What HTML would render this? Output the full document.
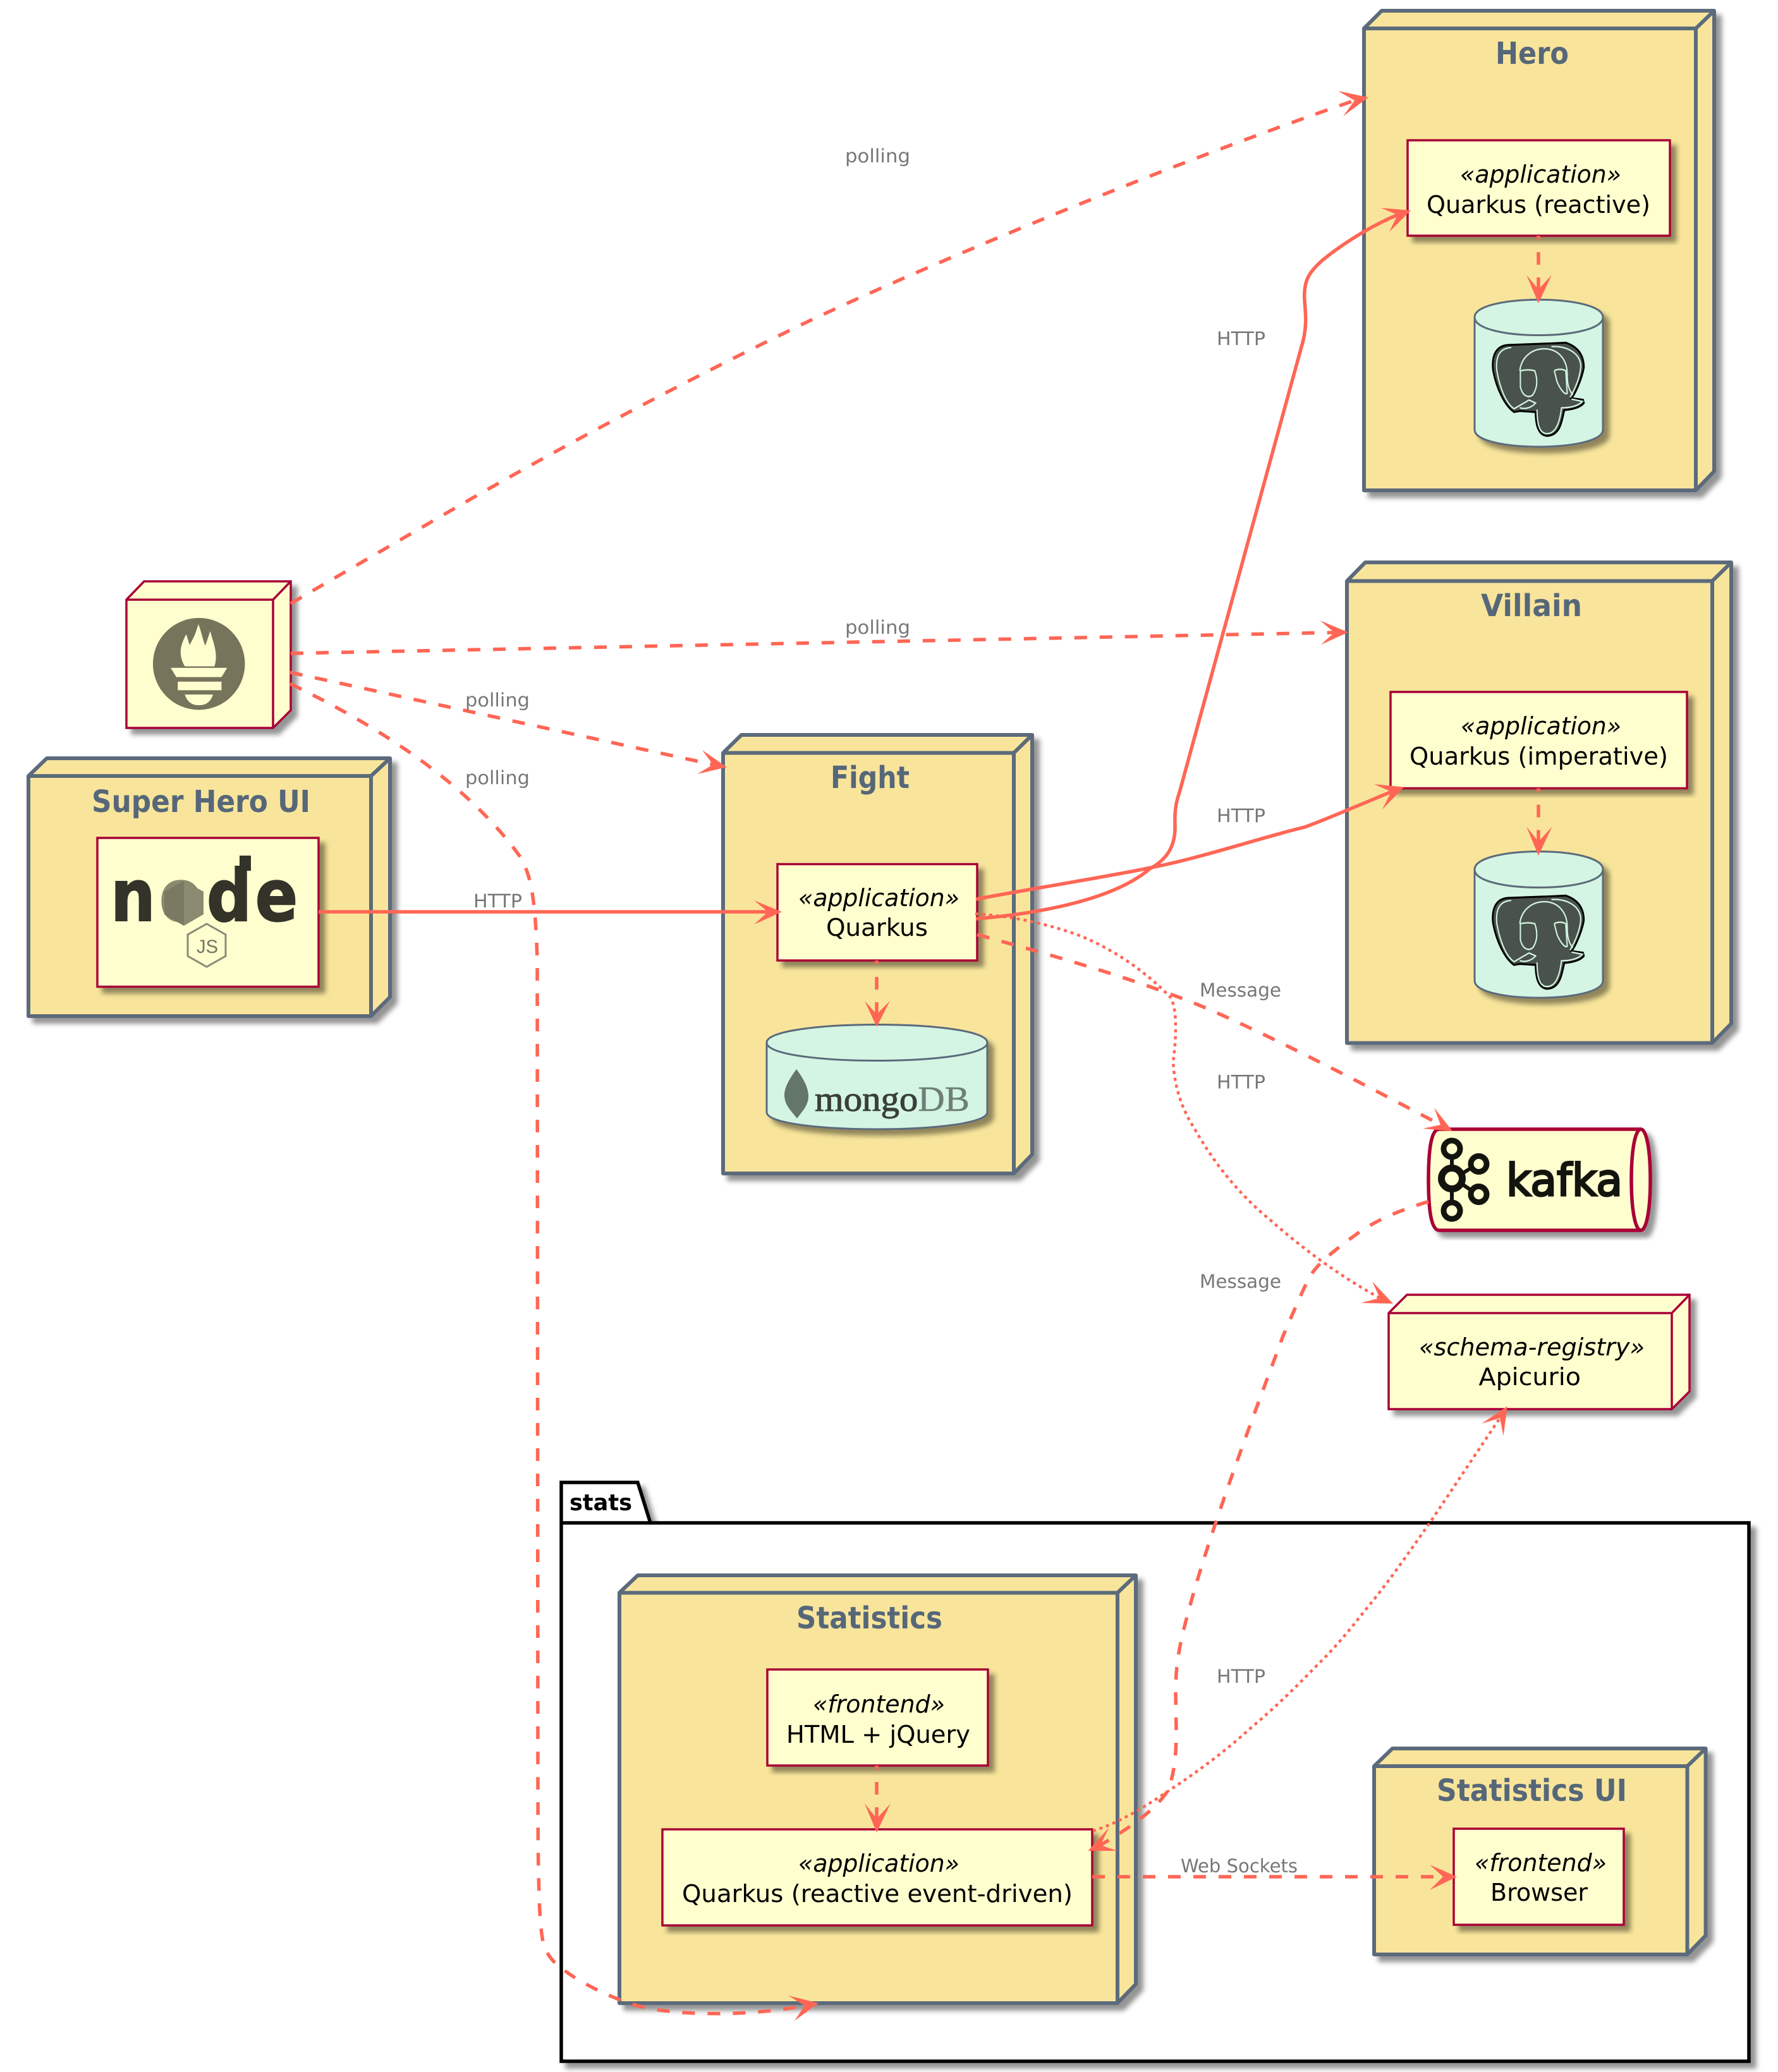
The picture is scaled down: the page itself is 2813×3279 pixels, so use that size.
<!DOCTYPE html>
<html><head><meta charset="utf-8"><title>Super Hero architecture</title>
<style>
html,body{margin:0;padding:0;background:#fff}
svg{display:block;position:absolute;left:0;top:0}
.t{font-family:"DejaVu Sans","Liberation Sans",sans-serif;font-weight:bold;font-size:48px;fill:#566779}
.b{font-family:"DejaVu Sans","Liberation Sans",sans-serif;font-size:38px;fill:#000}
.i{font-family:"DejaVu Sans","Liberation Sans",sans-serif;font-size:38px;font-style:italic;fill:#000}
.l{font-family:"DejaVu Sans","Liberation Sans",sans-serif;font-size:29px;fill:#777}
.n{fill:#F8E59B;stroke:#5B6B7B;stroke-width:6;stroke-linejoin:round}
.y{fill:#FEFECE;stroke:#A80036;stroke-width:3.5}
.d{fill:#D4F5E3;stroke:#5B6B7B;stroke-width:3}
.c{fill:none;stroke:#FF6655;stroke-width:5.5}
.dash{stroke-dasharray:20 20}
.dot{stroke-width:4.5;stroke-dasharray:5 6}
.a{fill:#FF6655;stroke:none}
</style></head>
<body>
<svg xmlns="http://www.w3.org/2000/svg" width="2813" height="3279" viewBox="0 0 2813 3279">
<defs>
<filter id="s" x="-5%" y="-5%" width="115%" height="115%"><feDropShadow dx="9" dy="9" stdDeviation="4" flood-color="#000" flood-opacity=".42"/></filter>
<g id="pg" transform="translate(2100 0) scale(.4545 .5102)">
<path d="M630 1070L780 1065L830 1063C870 1075 893 1100 893 1140C885 1180 860 1225 850 1235L890 1240L893 1250C880 1265 850 1270 825 1272C815 1310 810 1350 765 1352C735 1350 725 1320 725 1278L670 1275L650 1278C620 1260 590 1210 577 1150C570 1100 590 1072 630 1070Z" fill="#4A524C" stroke="#000" stroke-width="6"/>
<g fill="none" stroke="#D4F5E3" stroke-width="4.5">
<path d="M640 1078C600 1080 585 1105 590 1150C600 1200 620 1250 650 1268L700 1242"/>
<path d="M670 1150C675 1110 710 1080 760 1082C810 1085 835 1120 835 1160C835 1190 840 1210 855 1225"/>
<path d="M780 1075C840 1072 885 1100 882 1140C878 1175 860 1210 845 1232"/>
<path d="M672 1150L672 1200C680 1230 700 1235 715 1225C735 1200 730 1170 722 1150C700 1145 685 1148 672 1150"/>
<path d="M790 1150L800 1185C815 1215 830 1225 835 1220L830 1150C815 1143 800 1145 790 1150"/>
<path d="M730 1270C730 1330 745 1345 765 1345C790 1345 808 1320 815 1265C840 1265 870 1262 888 1245L850 1238"/>
<path d="M670 1265C690 1270 710 1265 725 1250L700 1240"/>
</g></g>
</defs>

<!-- stats package -->
<g filter="url(#s)">
<path d="M888 2410L888 2346L1009 2346L1029 2410L2767 2410L2767 3262L888 3262Z" fill="#fff" stroke="#000" stroke-width="5.5"/>
<path d="M888 2410L1029 2410" fill="none" stroke="#000" stroke-width="5.5"/>
</g>
<text x="901" y="2390" font-family="DejaVu Sans,Liberation Sans,sans-serif" font-weight="bold" font-size="36" textLength="99" lengthAdjust="spacingAndGlyphs">stats</text>

<!-- Hero -->
<g filter="url(#s)"><path class="n" d="M2158 45L2186 17L2712 17L2712 746L2683 776L2158 776Z"/></g>
<path class="n" style="fill:none" d="M2158 45L2683 45L2712 17M2683 45L2683 776"/>
<text class="t" x="2366" y="101" textLength="116" lengthAdjust="spacingAndGlyphs">Hero</text>
<rect class="y" x="2227" y="222" width="415" height="151" filter="url(#s)"/>
<text class="i" x="2310" y="289" textLength="255" lengthAdjust="spacingAndGlyphs">«application»</text>
<text class="b" x="2257" y="337" textLength="354" lengthAdjust="spacingAndGlyphs">Quarkus (reactive)</text>
<g filter="url(#s)"><path class="d" d="M2333 502C2333 465 2536 465 2536 502L2536 680C2536 716 2333 716 2333 680Z"/></g>
<path class="d" style="fill:none" d="M2333 502C2333 540 2536 540 2536 502"/>
<use href="#pg"/>

<!-- Villain -->
<g filter="url(#s)"><path class="n" d="M2131 919.5L2160 890L2739 890L2739 1620L2709 1650.6L2131 1650.6Z"/></g>
<path class="n" style="fill:none" d="M2131 919.5L2709 919.5L2739 890M2709 919.5L2709 1650.6"/>
<text class="t" x="2343" y="975" textLength="160" lengthAdjust="spacingAndGlyphs">Villain</text>
<rect class="y" x="2200" y="1095" width="469" height="152.5" filter="url(#s)"/>
<text class="i" x="2311" y="1162" textLength="254" lengthAdjust="spacingAndGlyphs">«application»</text>
<text class="b" x="2230" y="1210" textLength="409" lengthAdjust="spacingAndGlyphs">Quarkus (imperative)</text>
<g filter="url(#s)"><path class="d" d="M2333 1376C2333 1338 2536 1338 2536 1376L2536 1552C2536 1588 2333 1588 2333 1552Z"/></g>
<path class="d" style="fill:none" d="M2333 1376C2333 1414 2536 1414 2536 1376"/>
<use href="#pg" y="875"/>

<!-- Prometheus -->
<g filter="url(#s)"><path class="y" d="M200 949L228 920L460 920L460 1124L432 1152L200 1152Z"/></g>
<path class="y" style="fill:none" d="M200 949L432 949L460 920M432 949L432 1152"/>
<g transform="translate(0 880) scale(.4464 .4847)">
<ellipse cx="705" cy="352" rx="163" ry="150" fill="#77745C"/>
<g fill="#FEFECE">
<path d="M655 360C630 320 640 290 660 255L672 290C685 270 695 250 703 222C715 250 720 280 728 292L745 245C755 280 775 320 760 360Z"/>
<path d="M605 365L805 365L785 395L625 395Z"/>
<rect x="630" y="410" width="155" height="28"/>
<path d="M655 452L755 452C745 480 725 487 705 487C685 487 665 480 655 452Z"/>
</g></g>

<!-- Super Hero UI -->
<g filter="url(#s)"><path class="n" d="M45 1228L74 1200L617 1200L617 1578L587 1608L45 1608Z"/></g>
<path class="n" style="fill:none" d="M45 1228L587 1228L617 1200M587 1228L587 1608"/>
<text class="t" x="145" y="1285" textLength="346" lengthAdjust="spacingAndGlyphs">Super Hero UI</text>
<rect class="y" x="154" y="1326" width="350" height="235.5" filter="url(#s)"/>
<g transform="translate(175 1457) scale(.88 1)">
<text x="0 87.5 172.7 260" y="0" font-family="DejaVu Sans,sans-serif" font-weight="bold" font-size="113" fill="#33332A" stroke="#33332A" stroke-width="2">n<tspan fill="#8A8A70" stroke="#8A8A70">o</tspan>de</text>
</g>
<rect x="379" y="1354" width="18" height="24" fill="#33332A"/>
<path d="M291 1394L322 1411L322 1447L291 1465L260 1447L260 1411Z" fill="#8A8A70"/>
<path d="M291 1394L260 1411L260 1447L291 1465Z" fill="#7A7A62"/>
<path d="M327 1462L357 1479L357 1513L327 1530L297 1513L297 1479Z" fill="none" stroke="#8B8B78" stroke-width="3"/>
<text x="311" y="1508" font-family="Liberation Sans,sans-serif" font-size="30" fill="#777766" textLength="34" lengthAdjust="spacingAndGlyphs">JS</text>

<!-- Fight -->
<g filter="url(#s)"><path class="n" d="M1144 1191.5L1173 1163L1633 1163L1633 1827L1604 1857L1144 1857Z"/></g>
<path class="n" style="fill:none" d="M1144 1191.5L1604 1191.5L1633 1163M1604 1191.5L1604 1857"/>
<text class="t" x="1314" y="1247" textLength="125" lengthAdjust="spacingAndGlyphs">Fight</text>
<rect class="y" x="1230" y="1367.5" width="316" height="152.5" filter="url(#s)"/>
<text class="i" x="1263" y="1434" textLength="255" lengthAdjust="spacingAndGlyphs">«application»</text>
<text class="b" x="1307" y="1481" textLength="161" lengthAdjust="spacingAndGlyphs">Quarkus</text>
<g filter="url(#s)"><path class="d" d="M1213 1650C1213 1612 1562 1612 1562 1650L1562 1760C1562 1796 1213 1796 1213 1760Z"/></g>
<path class="d" style="fill:none" d="M1213 1650C1213 1688 1562 1688 1562 1650"/>
<path d="M1260 1692C1272 1708 1279 1722 1279 1735C1279 1750 1268 1760 1261 1770C1254 1760 1241 1750 1241 1733C1241 1720 1250 1706 1260 1692Z" fill="#64756A"/>
<text x="1289" y="1758" font-family="Liberation Serif,serif" font-size="56" textLength="245" lengthAdjust="spacingAndGlyphs" fill="#3A3F3A" stroke="#3A3F3A" stroke-width="1">mongo<tspan fill="#6E7F76" stroke="#6E7F76" stroke-width=".5">DB</tspan></text>

<!-- Kafka -->
<g filter="url(#s)"><path d="M2277 1787L2596 1787C2605 1787 2611 1820 2611 1867C2611 1914 2605 1947 2596 1947L2277 1947C2264 1947 2260 1914 2260 1867C2260 1820 2264 1787 2277 1787Z" fill="#FEFECE" stroke="#A80036" stroke-width="5.5"/></g>
<path d="M2596 1787C2587 1787 2581 1820 2581 1867C2581 1914 2587 1947 2596 1947" fill="none" stroke="#A80036" stroke-width="5.5"/>
<g fill="none" stroke="#14140F" stroke-width="9">
<circle cx="2297" cy="1818" r="13"/><circle cx="2297" cy="1865" r="16.5" stroke-width="11"/><circle cx="2339.5" cy="1842" r="12.5"/><circle cx="2339.5" cy="1890" r="12.5"/><circle cx="2297" cy="1916" r="13"/>
<path d="M2297 1831L2297 1848M2297 1882L2297 1903M2312 1858L2328 1848M2312 1873L2328 1884" stroke-width="6"/>
</g>
<text x="2383" y="1892" font-family="DejaVu Sans,sans-serif" font-size="70" fill="#14140F" stroke="#14140F" stroke-width="3" textLength="184" lengthAdjust="spacingAndGlyphs">kafka</text>

<!-- Apicurio -->
<g filter="url(#s)"><path class="y" d="M2197 2078L2226 2049L2673 2049L2673 2202L2645 2230L2197 2230Z"/></g>
<path class="y" style="fill:none" d="M2197 2078L2645 2078L2673 2049M2645 2078L2645 2230"/>
<text class="i" x="2245" y="2145" textLength="357" lengthAdjust="spacingAndGlyphs">«schema-registry»</text>
<text class="b" x="2339.5" y="2192" textLength="161.5" lengthAdjust="spacingAndGlyphs">Apicurio</text>

<!-- Statistics -->
<g filter="url(#s)"><path class="n" d="M980 2520.6L1009 2493L1797 2493L1797 3140L1768 3170L980 3170Z"/></g>
<path class="n" style="fill:none" d="M980 2520.6L1768 2520.6L1797 2493M1768 2520.6L1768 3170"/>
<text class="t" x="1260" y="2577" textLength="231" lengthAdjust="spacingAndGlyphs">Statistics</text>
<rect class="y" x="1214" y="2642" width="349" height="152" filter="url(#s)"/>
<text class="i" x="1286" y="2710" textLength="209" lengthAdjust="spacingAndGlyphs">«frontend»</text>
<text class="b" x="1244" y="2758" textLength="291" lengthAdjust="spacingAndGlyphs">HTML + jQuery</text>
<rect class="y" x="1048" y="2895" width="680" height="152" filter="url(#s)"/>
<text class="i" x="1263" y="2962" textLength="255" lengthAdjust="spacingAndGlyphs">«application»</text>
<text class="b" x="1079" y="3010" textLength="618" lengthAdjust="spacingAndGlyphs">Quarkus (reactive event-driven)</text>

<!-- Statistics UI -->
<g filter="url(#s)"><path class="n" d="M2174 2795L2203 2767L2698.6 2767L2698.6 3063L2669.5 3093L2174 3093Z"/></g>
<path class="n" style="fill:none" d="M2174 2795L2669.5 2795L2698.6 2767M2669.5 2795L2669.5 3093"/>
<text class="t" x="2273" y="2850" textLength="301" lengthAdjust="spacingAndGlyphs">Statistics UI</text>
<rect class="y" x="2300" y="2894" width="269" height="152" filter="url(#s)"/>
<text class="i" x="2333" y="2961" textLength="209" lengthAdjust="spacingAndGlyphs">«frontend»</text>
<text class="b" x="2358" y="3008" textLength="154" lengthAdjust="spacingAndGlyphs">Browser</text>

<!-- connectors -->
<g class="lines">
<path class="c dash" d="M460 955L720 804C900 700 1100 595 1282 507C1500 405 1850 260 2143 159"/>
<path class="c dash" d="M460 1034L2111 1001"/>
<path class="c dash" d="M459 1064L1128 1210"/>
<path class="c dash" d="M459 1082C600 1150 740 1240 823 1356C840 1385 847 1420 850 1520L851 2800C851 2950 852 3040 859 3072C862 3085 868 3097 880 3108C905 3130 950 3155 1001 3172C1060 3190 1180 3192 1273 3174"/>
<path class="c" d="M504 1443L1215 1443"/>
<path class="c" d="M1544 1454C1640 1446 1760 1425 1819 1375C1850 1358 1860 1335 1859 1305C1858 1280 1862 1265 1866 1254L2059 549C2068 520 2066 500 2064 476C2062 445 2070 432 2092 412C2125 385 2170 357 2211 340"/>
<path class="c" d="M1544 1423C1640 1405 1760 1386 1821 1373C1900 1358 2000 1324 2064 1309C2100 1296 2160 1270 2201 1253"/>
<path class="c dash" d="M1546 1479C1640 1505 1760 1538 1870 1580C1950 1610 2100 1685 2279 1780"/>
<path class="c dot" d="M1543 1446C1600 1450 1650 1460 1704 1479C1770 1505 1820 1545 1852 1578.6C1864 1600 1860 1650 1856 1680C1858 1720 1870 1755 1888 1783C1920 1840 1960 1890 2010 1931C2060 1975 2120 2020 2183 2054"/>
<path class="c dot" d="M1729 2897.5C1770 2885 1810 2860 1849 2834C1900 2800 1940 2770 1976 2737C2020 2700 2050 2670 2084 2635C2110 2610 2135 2580 2160 2548C2200 2500 2230 2455 2262 2410L2373 2244"/>
<path class="c dash" d="M2260 1901.5C2200 1920 2170 1935 2138 1959C2110 1980 2095 1992 2082 2007C2070 2020 2060 2045 2030 2114C2000 2196 1960 2300 1920 2420C1900 2480 1885 2530 1874 2574C1862 2620 1860 2650 1860 2680L1861 2737C1861 2780 1858 2810 1846 2836C1830 2860 1800 2885 1741 2920"/>
<path class="c dash" d="M1728 2970L2283 2970"/>
<path class="c dash" d="M2434 373L2434 458" stroke-dashoffset="14"/>
<path class="c dash" d="M2434 1247.5L2434 1332" stroke-dashoffset="14"/>
<path class="c dash" d="M1387 1520L1387 1605" stroke-dashoffset="14"/>
<path class="c dash" d="M1387 2794L1387 2878" stroke-dashoffset="14"/>
</g>
<g class="a">
<polygon points="2165,154 2117,144 2143,159 2125,184"/>
<polygon points="2133,1000.6 2088.5,982 2111,1001 2089.5,1020.5"/>
<polygon points="1150,1214 1111,1187 1128,1210 1103,1225"/>
<polygon points="1295,3170 1247,3158 1273,3174 1257,3198"/>
<polygon points="1237,1443 1193,1425 1215,1443 1193,1463"/>
<polygon points="2232,333 2185,329 2211,340 2198,367"/>
<polygon points="2221.4,1245.5 2174,1241 2201,1253 2187,1281"/>
<polygon points="2298,1790 2269,1753 2279,1780 2251,1786"/>
<polygon points="2204,2063 2171,2028 2183,2054 2153,2062"/>
<polygon points="2384.7,2225.5 2344,2253 2373,2244 2378.6,2272.4"/>
<polygon points="1721.4,2929 1754.6,2892 1741,2920 1768,2929"/>
<polygon points="2305,2970 2262,2951 2283,2970 2262,2991"/>
<polygon points="2434,480 2415,435 2434,458 2455,435"/>
<polygon points="2434,1354 2415,1308 2434,1332 2455.6,1308"/>
<polygon points="1387,1625 1368,1584 1387,1605 1408,1584"/>
<polygon points="1387,2900 1368,2854 1387,2878 1409,2854"/>
</g>

<!-- labels -->
<text class="l" x="1337" y="257" textLength="103" lengthAdjust="spacingAndGlyphs">polling</text>
<text class="l" x="1337" y="1003" textLength="103" lengthAdjust="spacingAndGlyphs">polling</text>
<text class="l" x="736" y="1118" textLength="102" lengthAdjust="spacingAndGlyphs">polling</text>
<text class="l" x="736" y="1241" textLength="102" lengthAdjust="spacingAndGlyphs">polling</text>
<text class="l" x="749" y="1436" textLength="77" lengthAdjust="spacingAndGlyphs">HTTP</text>
<text class="l" x="1925" y="546" textLength="77" lengthAdjust="spacingAndGlyphs">HTTP</text>
<text class="l" x="1925" y="1301" textLength="77" lengthAdjust="spacingAndGlyphs">HTTP</text>
<text class="l" x="1898" y="1577" textLength="129" lengthAdjust="spacingAndGlyphs">Message</text>
<text class="l" x="1925" y="1722.5" textLength="77" lengthAdjust="spacingAndGlyphs">HTTP</text>
<text class="l" x="1898" y="2038" textLength="129" lengthAdjust="spacingAndGlyphs">Message</text>
<text class="l" x="1925" y="2663" textLength="77" lengthAdjust="spacingAndGlyphs">HTTP</text>
<text class="l" x="1868" y="2963" textLength="185" lengthAdjust="spacingAndGlyphs">Web Sockets</text>
</svg>
</body></html>
